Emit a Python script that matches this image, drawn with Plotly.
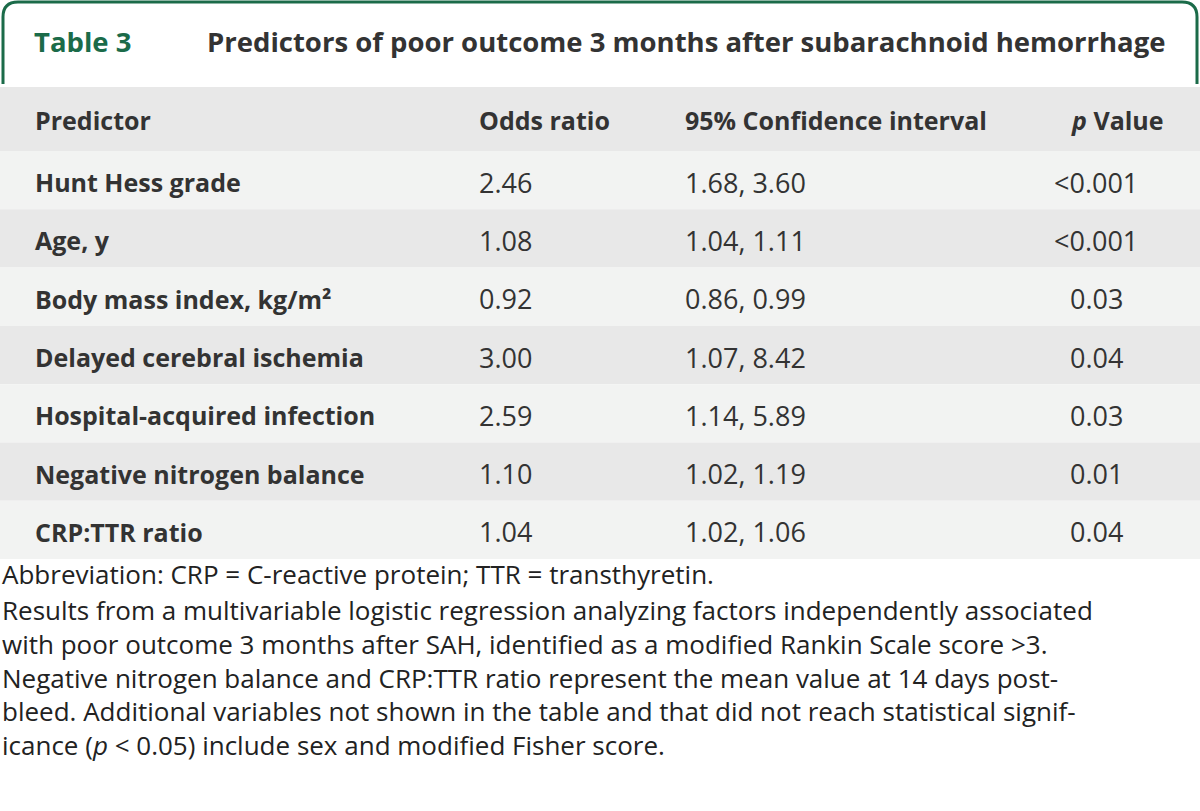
import plotly.graph_objects as go

table_label = "Table 3"
title = "Predictors of poor outcome 3 months after subarachnoid hemorrhage"
headers = ["Predictor", "Odds ratio", "95% Confidence interval", "<i>p</i> Value"]
predictors = ["Hunt Hess grade", "Age, y", "Body mass index, kg/m²",
              "Delayed cerebral ischemia", "Hospital-acquired infection",
              "Negative nitrogen balance", "CRP:TTR ratio"]
odds_ratio = ["2.46", "1.08", "0.92", "3.00", "2.59", "1.10", "1.04"]
conf_int = ["1.68, 3.60", "1.04, 1.11", "0.86, 0.99", "1.07, 8.42",
            "1.14, 5.89", "1.02, 1.19", "1.02, 1.06"]
p_values = ["<0.001", "<0.001", "0.03", "0.04", "0.03", "0.01", "0.04"]
abbreviation = "Abbreviation: CRP = C-reactive protein; TTR = transthyretin."
footnotes = [
    "Results from a multivariable logistic regression analyzing factors independently associated",
    "with poor outcome 3 months after SAH, identified as a modified Rankin Scale score >3.",
    "Negative nitrogen balance and CRP:TTR ratio represent the mean value at 14 days post-",
    "bleed. Additional variables not shown in the table and that did not reach statistical signif-",
    "icance (<i>p</i> < 0.05) include sex and modified Fisher score.",
]

FONT = "Open Sans"
GREEN = "#1b6b49"
TXT = "#333333"
DARK = "#e8e8e8"
LIGHT = "#f2f3f2"

W, H = 1200, 811
header_top, header_h, row_h = 87, 64, 58.3
col_x = [33, 477, 683]
p_center_header = 1117
p_center = 1096

fig = go.Figure()
shapes = []
annotations = []

# tab outline
shapes.append(dict(type="path",
                   path="M 3,84 L 3,17 Q 3,2 18,2 L 1182,2 Q 1197,2 1197,17 L 1197,84",
                   line=dict(color=GREEN, width=3), layer="above"))
annotations.append(dict(x=32, y=41, text="<b>" + table_label + "</b>", xanchor="left",
                        yanchor="middle", showarrow=False,
                        font=dict(family=FONT, size=27.5, color=GREEN)))
annotations.append(dict(x=205, y=41, text="<b>" + title + "</b>", xanchor="left",
                        yanchor="middle", showarrow=False,
                        font=dict(family=FONT, size=27.5, color=TXT)))

# header row
shapes.append(dict(type="rect", x0=0, x1=W, y0=header_top, y1=header_top + header_h,
                   fillcolor=DARK, line=dict(width=0), layer="below"))
hy = header_top + header_h / 2 + 1
for i, h in enumerate(headers[:3]):
    annotations.append(dict(x=col_x[i], y=hy, text="<b>" + h + "</b>", xanchor="left",
                            yanchor="middle", showarrow=False,
                            font=dict(family=FONT, size=25, color=TXT)))
annotations.append(dict(x=p_center_header, y=hy, text="<b>" + headers[3] + "</b>",
                        xanchor="center", yanchor="middle", showarrow=False,
                        font=dict(family=FONT, size=25, color=TXT)))

# body rows
for r in range(len(predictors)):
    y0 = header_top + header_h + r * row_h
    shapes.append(dict(type="rect", x0=0, x1=W, y0=y0, y1=y0 + row_h,
                       fillcolor=LIGHT if r % 2 == 0 else DARK, line=dict(width=0),
                       layer="below"))
    yc = y0 + row_h / 2 + 2
    annotations.append(dict(x=col_x[0], y=yc, text="<b>" + predictors[r] + "</b>",
                            xanchor="left", yanchor="middle", showarrow=False,
                            font=dict(family=FONT, size=25, color=TXT)))
    annotations.append(dict(x=col_x[1], y=yc, text=odds_ratio[r], xanchor="left",
                            yanchor="middle", showarrow=False,
                            font=dict(family=FONT, size=27, color=TXT)))
    annotations.append(dict(x=col_x[2], y=yc, text=conf_int[r], xanchor="left",
                            yanchor="middle", showarrow=False,
                            font=dict(family=FONT, size=27, color=TXT)))
    annotations.append(dict(x=p_center, y=yc, text=p_values[r].replace("<", "&lt;"),
                            xanchor="center", yanchor="middle", showarrow=False,
                            font=dict(family=FONT, size=27, color=TXT)))

# footnotes
annotations.append(dict(x=0, y=574, text=abbreviation, xanchor="left", yanchor="middle",
                        showarrow=False, font=dict(family=FONT, size=26, color="#222222")))
para = "<br>".join(t.replace("< 0.05", "&lt; 0.05").replace(">3", "&gt;3") for t in footnotes)
annotations.append(dict(x=0, y=590, text=para, xanchor="left", yanchor="top", align="left",
                        showarrow=False, font=dict(family=FONT, size=26, color="#222222")))

fig.update_layout(
    width=W, height=H, margin=dict(l=0, r=0, t=0, b=0),
    paper_bgcolor="white", plot_bgcolor="white",
    xaxis=dict(range=[0, W], visible=False, fixedrange=True),
    yaxis=dict(range=[H, 0], visible=False, fixedrange=True),
    shapes=shapes, annotations=annotations, showlegend=False,
)
fig.write_html("out.html", config={"displayModeBar": False},
               post_script="document.body.style.margin='0';document.body.style.overflow='hidden';")
